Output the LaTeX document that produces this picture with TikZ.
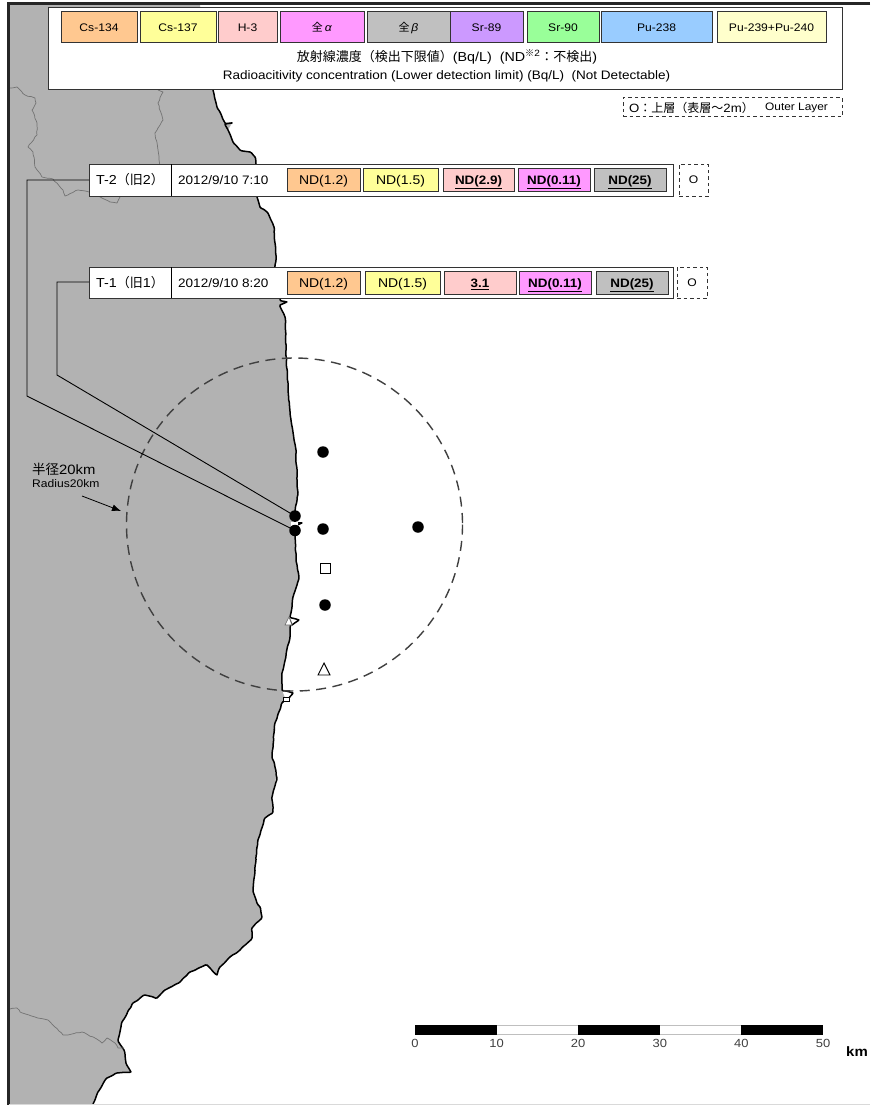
\documentclass[tikz,border=0pt]{standalone}
\usepackage{fontspec}
\setmainfont{Liberation Sans}[FakeStretch=1.1]
\newfontfamily\cjk{Noto Sans CJK JP}
\usetikzlibrary{arrows.meta,decorations.pathmorphing}
\definecolor{land}{HTML}{B2B2B2}
\definecolor{cA}{HTML}{FFC890}
\definecolor{cB}{HTML}{FFFF99}
\definecolor{cC}{HTML}{FFCCCC}
\definecolor{cD}{HTML}{FF99FF}
\definecolor{cE}{HTML}{C0C0C0}
\definecolor{cF}{HTML}{CC99FF}
\definecolor{cG}{HTML}{99FF99}
\definecolor{cH}{HTML}{99CCFF}
\definecolor{cI}{HTML}{FFFFCC}
\definecolor{edge}{HTML}{333333}
\newcommand{\fs}[1]{\fontsize{#1}{#1}\selectfont}
\newcommand{\under}[1]{\fs{12.2}\underline{\textbf{#1}}}
\newcommand{\cellbox}[7]{% name,x1,x2,y1,y2,style,text
  \pgfmathsetmacro{\cx}{(#2+#3)/2}\pgfmathsetmacro{\cy}{(#4+#5)/2}%
  \pgfmathsetmacro{\cw}{#3-#2}\pgfmathsetmacro{\ch}{#5-#4}%
  \node[#6,minimum width=\cw pt,minimum height=\ch pt] (#1) at (\cx,\cy) {#7};}
\tikzset{
  swatch/.style={draw=edge,line width=1pt,fill=#1,inner sep=0pt,outer sep=0pt,font=\fs{11},text height=9pt,text depth=0pt},
  valbox/.style={draw=edge,line width=1pt,fill=#1,inner sep=0pt,outer sep=0pt,font=\fs{12.7},text height=10pt,text depth=0pt},
  panel/.style={draw=edge,line width=1pt,fill=white,inner sep=0pt,outer sep=0pt},
  dashbox/.style={draw=edge,line width=1pt,dash pattern=on 3.5pt off 3pt,fill=white,inner sep=0pt,outer sep=0pt},
  dotmark/.style={circle,fill=black,inner sep=0pt,minimum size=11.5pt},
  coast/.style={draw=black,line width=1.5pt,line join=round,decorate,decoration={random steps,segment length=4pt,amplitude=.45pt},rounded corners=1pt},
  border/.style={draw=black!55,line width=.7pt,line join=round,decorate,decoration={random steps,segment length=3pt,amplitude=.5pt}},
  leader/.style={draw=black,line width=.9pt},
  caption/.style={inner sep=0pt,text=black}
}
\pgfmathsetseed{7}
\begin{document}
\begin{tikzpicture}[x=1pt,y=-1pt]
\useasboundingbox (0,0) rectangle (870,1105);
% land
\fill[land,rounded corners=1pt] (9,4) -- (200,4) -- (205,60) -- (213,90) -- (217,107) -- (225,123) -- (232,123) -- (228,130) -- (233,142) -- (240,150) -- (250,152) -- (255,157) -- (256,164) -- (257,197) -- (260,207) -- (267,212) -- (274,227) -- (276,260) -- (275,267) -- (280,300) -- (287,302) -- (280,305) -- (285,317) -- (286,350) -- (288,390) -- (291,420) -- (296,450) -- (297,480) -- (298,493) -- (295,513) -- (295,533) -- (296,560) -- (299,577) -- (293,597) -- (292,607) -- (290,617) -- (290,637) -- (282,673) -- (282,690) -- (285,698) -- (282,703) -- (275,723) -- (272,757) -- (274,762) -- (276,778) -- (272,797) -- (273,812) -- (265,818) -- (258,840) -- (255,867) -- (253,890) -- (257,903) -- (260,907) -- (262,917) -- (252,928) -- (252,938) -- (240,950) -- (230,957) -- (220,967) -- (217,975) -- (210,968) -- (207,965) -- (190,972) -- (180,982) -- (165,990) -- (157,998) -- (145,995) -- (133,1003) -- (122,1022) -- (118,1040) -- (124,1050) -- (126,1063) -- (131,1072) -- (117,1073) -- (107,1078) -- (98,1092) -- (93,1104) -- (9,1104) -- cycle;
% coast
\draw[coast] (213,90) -- (217,107) -- (225,123) -- (232,123) -- (225,124) -- (228,130) -- (233,142) -- (240,150) -- (250,152) -- (255,157) -- (256,164);
\draw[coast] (257,197) -- (260,207) -- (267,212) -- (274,227) -- (276,260) -- (275,267);
\draw[coast] (280,298) -- (280,300) -- (287,302) -- (280,305) -- (285,317) -- (286,350) -- (288,390) -- (291,420) -- (296,450) -- (297,480) -- (298,493) -- (295,513) -- (295,522) -- (302,523) -- (295,526) -- (295,533) -- (296,560) -- (299,577) -- (293,597) -- (292,607) -- (290,617) -- (299,620) -- (292,625) -- (290,620) -- (290,637) -- (282,673) -- (282,690) -- (293,693) -- (288,699) -- (284,701) -- (282,703) -- (275,723) -- (272,757) -- (274,762) -- (277,778) -- (272,797) -- (273,812) -- (265,818) -- (258,840) -- (255,867) -- (253,890) -- (257,903) -- (260,907) -- (262,917) -- (252,928) -- (252,938) -- (240,950) -- (230,957) -- (220,967) -- (217,975) -- (210,968) -- (207,965) -- (190,972) -- (180,982) -- (165,990) -- (157,998) -- (145,995) -- (133,1003) -- (122,1022) -- (118,1040) -- (124,1050) -- (126,1063) -- (131,1072) -- (117,1073) -- (107,1078) -- (98,1092) -- (93,1104);
\filldraw[fill=white,draw=black,line width=.8pt] (283,697) rectangle (289,701);
\filldraw[fill=white,draw=black!60,line width=.6pt] (285,625) -- (289,617) -- (292,625) -- cycle;
\fill[white] (291,522) rectangle (298,526);
% prefecture borders
\draw[border] (10,1009) -- (17,1008) -- (20,1012) -- (35,1017) -- (48,1020) -- (55,1027) -- (63,1035) -- (68,1035) -- (82,1032) -- (95,1038) -- (102,1043) -- (107,1038) -- (115,1043) -- (118,1048) -- (124,1048);
\draw[border] (10,88) -- (17,87) -- (25,95) -- (35,98) -- (36,103) -- (32,110) -- (37,123) -- (37,135) -- (28,147) -- (33,152) -- (35,167) -- (42,177) -- (53,179) -- (63,190) -- (65,196) -- (78,190) -- (89,192) -- (110,202) -- (117,203) -- (120,197);
\draw[border] (158,90) -- (163,92) -- (158,103) -- (163,120) -- (155,133) -- (158,150) -- (160,166);
% frame
\draw[draw=black!85,line width=2.5pt] (870,3.5) -- (8.5,3.5) -- (8.5,1105);
\draw[draw=black!15,line width=1pt] (9,1104.5) -- (870,1104.5);
% radius circle
\draw[draw=black!75,line width=1.4pt,dash pattern=on 10pt off 6.5pt] (294.5,524.5) ellipse [x radius=168,y radius=166.5];
% legend
\cellbox{legend}{48}{842}{8}{90}{panel}{}
\cellbox{k1}{61}{137}{12}{43}{swatch=cA}{Cs-134}
\cellbox{k2}{140}{216}{12}{43}{swatch=cB}{Cs-137}
\cellbox{k3}{218}{277}{12}{43}{swatch=cC}{H-3}
\cellbox{k4}{280}{364}{12}{43}{swatch=cD}{{\cjk 全}\,\textit{α}}
\cellbox{k5}{367}{450}{12}{43}{swatch=cE}{{\cjk 全}\,\textit{β}}
\cellbox{k6}{450}{523}{12}{43}{swatch=cF}{Sr-89}
\cellbox{k7}{527}{599}{12}{43}{swatch=cG}{Sr-90}
\cellbox{k8}{601}{712}{12}{43}{swatch=cH}{Pu-238}
\cellbox{k9}{717}{826}{12}{43}{swatch=cI}{Pu-239+Pu-240}
\node[caption,font=\fs{13}] (cap1) at (447,57) {{\cjk 放射線濃度（検出下限値）}(Bq/L) \ (ND\textsuperscript{{\cjk ※}2}{\cjk ：不検出})};
\node[caption,font=\fs{12.3}] (cap2) at (446.5,76) {Radioacitivity concentration (Lower detection limit) (Bq/L) \ (Not Detectable)};
\cellbox{layer}{623}{842}{98}{117}{dashbox}{}
\node[caption,font=\fs{12},anchor=west] (lay1) at (629,108) {O{\cjk ：上層（表層～}2m{\cjk ）}};
\node[caption,font=\fs{10.8},anchor=west] (lay2) at (765,108) {Outer Layer};
% T-2 row
\cellbox{t2box}{89}{673}{164}{196}{panel}{}
\draw[draw=black,line width=1pt] (t2box.north west) ++(82,0) coordinate (t2a) -- (t2a |- t2box.south);
\node[caption,font=\fs{13}] (t2name) at (130,180) {T-2{\cjk （旧}2{\cjk ）}};
\node[caption,font=\fs{12.3},anchor=west] (t2date) at (178,180.5) {2012/9/10 7:10};
\cellbox{t2c}{287}{360}{168}{191}{valbox=cA}{ND(1.2)}
\cellbox{t2d}{363}{438}{168}{191}{valbox=cB}{ND(1.5)}
\cellbox{t2e}{443}{514}{168}{191}{valbox=cC}{\under{ND(2.9)}}
\cellbox{t2f}{518}{590}{168}{191}{valbox=cD}{\under{ND(0.11)}}
\cellbox{t2g}{594}{666}{168}{191}{valbox=cE}{\under{ND(25)}}
\cellbox{t2o}{679}{708}{164}{196}{dashbox}{\fs{11}O}
% T-1 row
\cellbox{t1box}{89}{673}{267}{298}{panel}{}
\draw[draw=black,line width=1pt] (t1box.north west) ++(82,0) coordinate (t1a) -- (t1a |- t1box.south);
\node[caption,font=\fs{13}] (t1name) at (130,283) {T-1{\cjk （旧}1{\cjk ）}};
\node[caption,font=\fs{12.3},anchor=west] (t1date) at (178,283.5) {2012/9/10 8:20};
\cellbox{t1c}{287}{360}{271}{294}{valbox=cA}{ND(1.2)}
\cellbox{t1d}{365}{440}{271}{294}{valbox=cB}{ND(1.5)}
\cellbox{t1e}{444}{516}{271}{294}{valbox=cC}{\under{3.1}}
\cellbox{t1f}{519}{591}{271}{294}{valbox=cD}{\under{ND(0.11)}}
\cellbox{t1g}{596}{668}{271}{294}{valbox=cE}{\under{ND(25)}}
\cellbox{t1o}{677}{707}{267}{298}{dashbox}{\fs{11}O}
% markers
\node[dotmark] (p1) at (295,516) {};
\node[dotmark] (p2) at (295,530.5) {};
\node[dotmark] (p3) at (323,452) {};
\node[dotmark] (p4) at (323,529) {};
\node[dotmark] (p5) at (418,527) {};
\node[dotmark] (p6) at (325,605) {};
\node[draw=black,line width=.9pt,fill=white,inner sep=0pt,minimum size=10pt] (sq) at (325,568) {};
\draw[draw=black,line width=.9pt,fill=white,line join=miter] (318,675) -- (324,663) -- (330,675) -- cycle;
% leaders
\coordinate (b2a) at (27,180);
\coordinate (b2b) at (27,396);
\coordinate (b1a) at (57,282);
\coordinate (b1b) at (57,375);
\draw[leader] (t2box.west |- b2a) -- (b2a) -- (b2b) -- (p2.center);
\draw[leader] (t1box.west |- b1a) -- (b1a) -- (b1b) -- (p1.center);
% radius label
\node[caption,font=\fs{13.5},anchor=west] (r1) at (32,469) {{\cjk 半径}20km};
\node[caption,font=\fs{11},anchor=west] (r2) at (32,484) {Radius20km};
\coordinate (ra) at (82,496);
\coordinate (rb) at (121,511);
\draw[draw=black,line width=.8pt,-{Latex[length=9pt,width=7pt]}] (ra) -- (rb);
% scale bar
\foreach \i/\a/\b in {0/415/496.6,2/578.2/659.8,4/741.4/823}{\fill[black] (\a,1025) rectangle (\b,1035);}
\foreach \a/\b in {496.6/578.2,659.8/741.4}{\draw[draw=black!25,line width=1pt] (\a,1025.5) -- (\b,1025.5) (\a,1034.5) -- (\b,1034.5);}
\foreach \v/\a in {0/415,10/496.6,20/578.2,30/659.8,40/741.4,50/823}{\node[caption,font=\fs{11.8},text=black!75] (s\v) at (\a,1043.5) {\v};}
\node[caption,font=\bfseries\fs{13.6}] (km) at (857,1052) {km};
\end{tikzpicture}
\end{document}
